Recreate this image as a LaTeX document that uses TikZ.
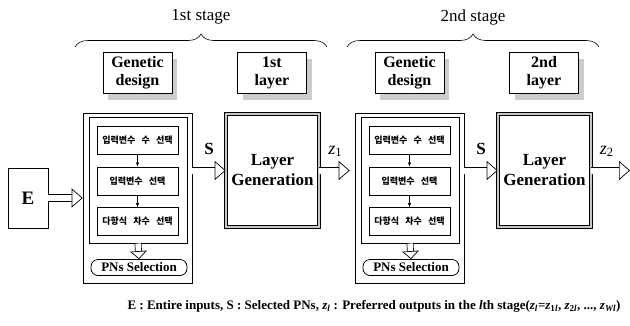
\documentclass[tikz,border=0pt]{standalone}
\usepackage{fontspec}
\setmainfont{Liberation Serif}
\newfontfamily\krfont{Noto Sans CJK KR}[WordSpace=3]
\usepackage{tikz}
\usetikzlibrary{arrows.meta}
\usetikzlibrary{shadows}
\usetikzlibrary{decorations.pathreplacing}

\tikzset{
    hollow/.style={line width=0.7pt, double=white, double distance=6pt,
        -{Triangle[open, fill=white, width=19pt, length=11pt, line width=0.7pt]}},
    hollowsmall/.style={line width=0.7pt, double=white, double distance=5.5pt,
        -{Triangle[open, fill=white, width=17pt, length=8pt, line width=0.7pt]}},
    titlebox/.style={draw, fill=white, line width=0.7pt, align=center, inner sep=1pt,
        minimum width=69pt, minimum height=41pt,
        font=\bfseries\fontsize{16}{18}\selectfont,
        drop shadow={shadow xshift=5pt, shadow yshift=-7pt, fill=gray!40, opacity=1}},
    genbox/.style={draw, line width=0.6pt, minimum width=109pt, minimum height=170pt},
    innerbox/.style={draw, line width=1pt, minimum width=98pt, minimum height=126pt},
    selbox/.style={draw, line width=0.8pt, minimum width=81pt, minimum height=28pt,
        inner sep=1pt, font=\krfont\bfseries\fontsize{9}{10}\selectfont},
    pnsbox/.style={draw, line width=0.8pt, rounded corners=7pt, minimum width=96pt,
        minimum height=16pt, inner sep=0pt, font=\bfseries\fontsize{13}{14}\selectfont},
    laybox/.style={draw, line width=0.6pt, double=gray!45, double distance=2.4pt,
        minimum width=93pt, minimum height=113pt, align=center,
        font=\bfseries\fontsize{17}{20}\selectfont},
    arrlabel/.style={font=\bfseries\fontsize{17}{19}\selectfont}
}

\begin{document}
\begin{tikzpicture}[x=1pt, y=-1pt, line cap=butt, line join=miter]
    \useasboundingbox (0,0) rectangle (630,325);

    \node[draw, line width=0.7pt, minimum width=40pt, minimum height=60pt,
        font=\bfseries\fontsize{19}{20}\selectfont] (E) at (28,198) {E};

    \foreach \s/\th in {1/1st, 2/2nd} {
        \pgfmathsetmacro\x{(\s-1)*272}

        \node[font=\fontsize{17}{19}\selectfont] (stage\s) at (201+\x,17) {\th{} stage};
        \draw[line width=0.6pt, decorate, decoration={brace, amplitude=13pt}]
            (75+\x,47) -- (327+\x,47);

        \node[titlebox] (gd\s) at (137.5+\x,72.5) {Genetic\\design};
        \node[titlebox] (lt\s) at (272+\x,72.5) {\th\\layer};

        \node[genbox] (gen\s) at (137.5+\x,198) {};
        \node[innerbox] (inner\s) at (138+\x,180) {};
        \node[selbox] (selA\s) at (137.5+\x,140) {입력변수 수 선택};
        \node[selbox] (selB\s) at (137.5+\x,181) {입력변수 선택};
        \node[selbox] (selC\s) at (137.5+\x,221.5) {다항식 차수 선택};
        \node[pnsbox] (pns\s) at (139+\x,267.5) {PNs Selection};

        \draw[line width=0.6pt, -{Latex[length=4pt, width=3.5pt]}] (selA\s) -- (selB\s);
        \draw[line width=0.6pt, -{Latex[length=4pt, width=3.5pt]}] (selB\s) -- (selC\s);
        \draw[hollowsmall] (inner\s.south) -- (pns\s.north);

        \node[laybox] (lay\s) at (272.5+\x,170.5) {Layer\\Generation};

        \draw[hollow] (gen\s.east |- lay\s.west) -- (lay\s.west)
            node[arrlabel, midway, above=12pt] {S};
    }

    \coordinate (out) at (630,170.5);

    \draw[hollow] (E.east) -- (E.east -| gen1.west);
    \draw[hollow, shorten >=5pt] (lay1.east) -- (lay1.east -| gen2.west)
        node[arrlabel, pos=0.45, above=10pt, font=\fontsize{18}{19}\selectfont] {\textit{z}\textsubscript{1}};
    \draw[hollow] (lay2.east) -- (out)
        node[arrlabel, pos=0.4, above=10pt, font=\fontsize{18}{19}\selectfont] {\textit{z}\textsubscript{2}};

    \node[anchor=east, font=\bfseries\fontsize{13}{14}\selectfont] (caption) at (624,306)
        {E : Entire inputs, S : Selected PNs, \textit{z}\textsubscript{\textit{l}} : Preferred outputs in the \textit{l}th stage(\textit{z}\textsubscript{\textit{l}}=\textit{z}\textsubscript{1\textit{l}}, \textit{z}\textsubscript{2\textit{l}}, ..., \textit{z}\textsubscript{\textit{Wl}})};
\end{tikzpicture}
\end{document}
